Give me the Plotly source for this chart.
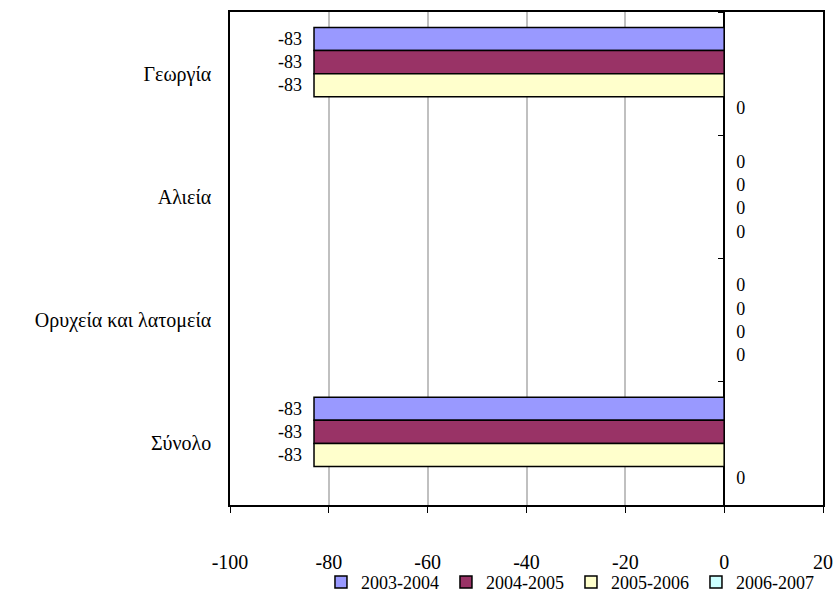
import plotly.graph_objects as go

categories = ["Γεωργία", "Αλιεία", "Ορυχεία και λατομεία", "Σύνολο"]
series_names = ["2003-2004", "2004-2005", "2005-2006", "2006-2007"]
values_2003_2004 = [-83, 0, 0, -83]
values_2004_2005 = [-83, 0, 0, -83]
values_2005_2006 = [-83, 0, 0, -83]
values_2006_2007 = [0, 0, 0, 0]
x_ticks = [-100, -80, -60, -40, -20, 0, 20]

colors = ["#9999FF", "#993366", "#FFFFCC", "#CCFFFF"]
all_values = [values_2003_2004, values_2004_2005, values_2005_2006, values_2006_2007]

FONT = "Liberation Serif"

fig = go.Figure()
for name, vals, col in zip(series_names, all_values, colors):
    fig.add_trace(go.Bar(
        y=categories, x=vals, name=name, orientation="h",
        marker=dict(color=col, line=dict(color="black", width=1.5)),
        text=[str(v) for v in vals], texttemplate="  %{text}  ",
        textposition="outside",
        textfont=dict(family=FONT, size=18, color="black"),
        outsidetextfont=dict(family=FONT, size=18, color="black"),
        cliponaxis=False,
    ))

fig.add_trace(go.Bar(y=categories, x=[None] * 4, yaxis="y2", showlegend=False,
                     orientation="h", hoverinfo="skip"))

fig.update_layout(
    width=835, height=593, autosize=False,
    margin=dict(l=230, r=12, t=12, b=88, autoexpand=False),
    paper_bgcolor="white", plot_bgcolor="white",
    barmode="group", bargap=0.25, bargroupgap=0,
    font=dict(family=FONT, size=20, color="black"),
    showlegend=True,
    legend=dict(orientation="h", x=0.575, xanchor="center",
                yref="container", y=0.018, yanchor="middle",
                bgcolor="rgba(0,0,0,0)",
                font=dict(family=FONT, size=18), itemwidth=30,
                entrywidth=80, entrywidthmode="pixels",
                traceorder="normal", tracegroupgap=0),
    xaxis=dict(range=[-100, 20], tickvals=x_ticks, ticktext=[str(t) for t in x_ticks],
               showgrid=True, gridcolor="#C0C0C0", gridwidth=1.5,
               zeroline=True, zerolinecolor="black", zerolinewidth=1.5,
               showline=True, linecolor="black", linewidth=1.5, mirror=True,
               ticks="outside", ticklen=6, tickcolor="black",
               ticklabelstandoff=32,
               tickfont=dict(family=FONT, size=20)),
    yaxis=dict(autorange="reversed", showline=True, linecolor="black", linewidth=1.5,
               mirror=True, ticks="", showgrid=False,
               tickfont=dict(family=FONT, size=20), ticklabelstandoff=13),
    yaxis2=dict(overlaying="y", anchor="free", position=100 / 120, side="left",
                autorange="reversed", matches="y",
                showline=False, ticks="outside", ticklen=6, tickcolor="black",
                tickson="boundaries", showticklabels=False, showgrid=False),
)

fig.write_html("out.html", config={"displayModeBar": False},
               post_script="document.body.style.margin='0';")
